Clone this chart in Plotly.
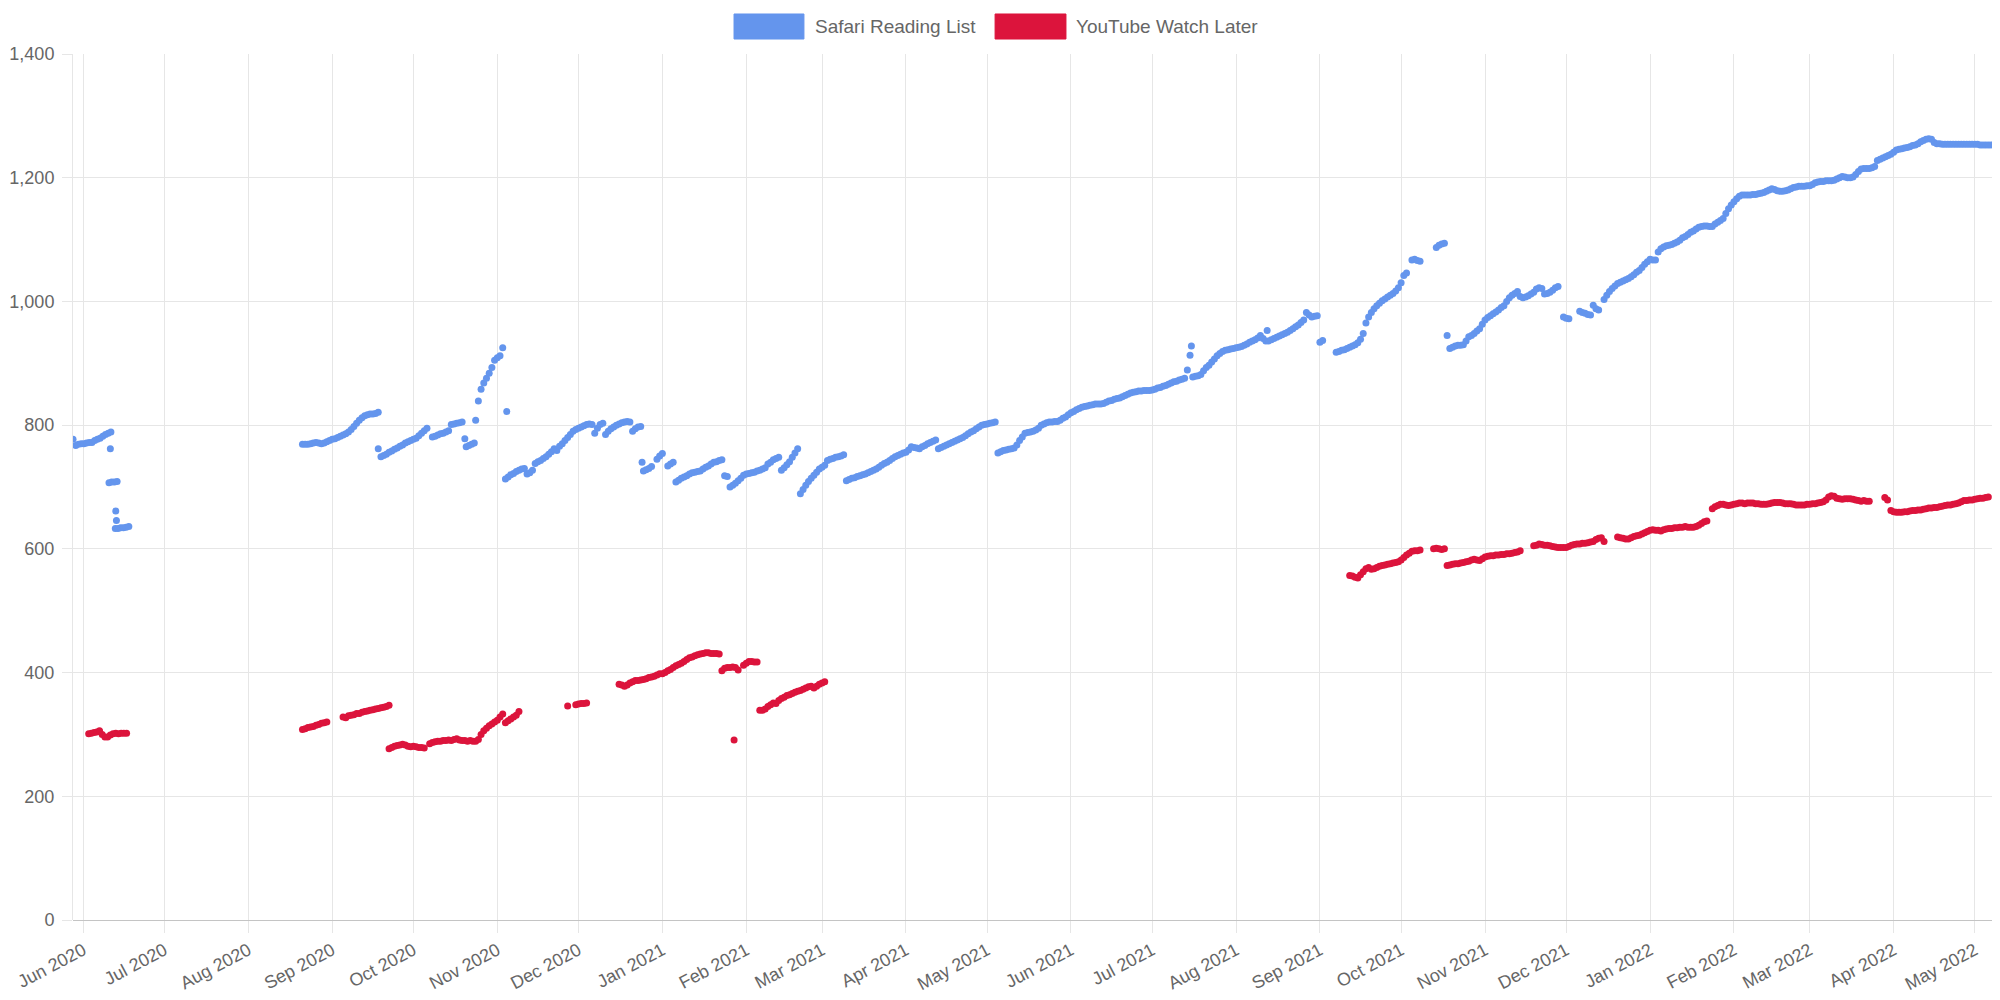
import pandas as pd
import plotly.graph_objects as go

# ---------------- data (daily samples; each segment = start date + consecutive daily values)
blue_name = "Safari Reading List"
red_name = "YouTube Watch Later"
blue_color = "#6495ED"
red_color = "#DC143C"

blue_segments = [
    ("2020-05-28 05:00", [777, 767, 769, 770, 770, 771, 772, 772, 775, 777, 779, 782, 785, 787, 789]),
    ("2020-06-11", [762]),
    ("2020-06-10 12:00", [707, 708, 708, 709]),
    ("2020-06-13", [661]),
    ("2020-06-13 06:00", [646]),
    ("2020-06-12 20:00", [633, 633, 634, 634, 635, 636]),
    ("2020-08-21", [769, 769, 769, 770, 771, 772, 771, 770, 771, 773, 775, 777, 778, 780, 782, 784, 786, 789,
                    793, 798, 803, 808, 812, 815, 817, 818, 818, 819, 821]),
    ("2020-09-18", [762]),
    ("2020-09-19", [749, 751, 753, 756, 758, 761, 763, 766, 768, 771, 773, 775, 777, 779, 783, 787, 791, 795]),
    ("2020-10-08", [781, 782, 784, 786, 787, 789, 791]),
    ("2020-10-15", [801, 802, 803, 804, 805]),
    ("2020-10-20", [778]),
    ("2020-10-20 12:00", [765, 767, 769, 771]),
    ("2020-10-24", [808, 839, 858, 868, 876, 884, 893, 905, 909, 912, 925]),
    ("2020-11-04 12:00", [822]),
    ("2020-11-04", [713, 716, 720, 722, 725, 727, 729, 730]),
    ("2020-11-12", [721, 723, 727]),
    ("2020-11-15", [738, 741, 743, 746, 749, 753, 757, 762, 759, 766, 770, 775, 780, 785, 790, 793, 795, 797,
                    799, 801, 802, 801, 787, 795, 801, 803, 785, 790, 794, 797, 800, 802, 804, 805, 806, 805,
                    790, 794, 797, 798]),
    ("2020-12-24 12:00", [740]),
    ("2020-12-25", [726, 728, 730, 733]),
    ("2020-12-30", [745, 750, 754]),
    ("2021-01-03", [734, 737, 740]),
    ("2021-01-06", [708, 711, 714, 716, 718, 721, 723, 724, 725, 726, 729, 732, 734, 737, 740, 741, 743, 744]),
    ("2021-01-24", [718, 717]),
    ("2021-01-26", [700, 703, 706, 710, 714, 719, 721, 722, 723, 724, 726, 727, 729, 731, 737, 740, 744, 746, 748]),
    ("2021-02-14", [727, 731, 736, 741, 748, 755, 762]),
    ("2021-02-21", [689, 696, 703, 709, 714, 719, 724, 729, 732, 735, 743, 745, 746, 748, 749, 750, 752]),
    ("2021-03-10", [710, 712, 714, 715, 717, 718, 720, 721, 723, 725, 727, 729, 732, 735, 738, 740, 743, 746,
                    749, 751, 753, 755, 756, 760, 765, 764, 763, 762, 765, 767, 770, 772, 774, 776]),
    ("2021-04-13", [762, 764, 766, 768, 770, 772, 774, 776, 778, 780, 783, 786, 789, 791, 794, 797, 800, 801,
                    802, 803, 804, 805]),
    ("2021-05-05", [755, 757, 759, 760, 761, 762, 763, 768, 775, 781, 787, 788, 789, 790, 792, 795]),
    ("2021-05-21", [800, 802, 804, 805, 805, 806, 806, 808, 811, 813, 817, 820, 822, 825, 827, 829, 830, 831,
                    832, 833, 834, 834, 834, 835, 837, 839, 840, 842, 843, 844, 846, 848, 850, 852, 853, 854,
                    855, 855, 856, 856, 856, 857, 858, 860, 861, 863, 864, 866, 868, 870, 871, 873, 874, 876]),
    ("2021-07-14", [889]),
    ("2021-07-15", [913]),
    ("2021-07-15 12:00", [928]),
    ("2021-07-16", [878, 879, 880, 882, 888, 893, 897, 902, 907, 912, 916, 919, 921, 922, 923, 924, 925, 926,
                    927, 929, 931, 934, 936, 938, 941]),
    ("2021-08-10", [945, 940, 936, 936, 938, 940, 942, 944, 946, 948, 950, 953, 956, 959, 962, 966, 970, 982,
                    978, 975, 976, 977]),
    ("2021-08-12 12:00", [953]),
    ("2021-09-01", [934, 937]),
    ("2021-09-07", [918, 919, 921, 922, 924, 926, 928, 930, 933, 939, 948, 965, 975, 982, 988, 993, 997, 1001,
                    1004, 1007, 1010, 1013, 1017, 1022, 1030, 1042, 1046]),
    ("2021-10-05", [1067, 1068, 1066, 1065]),
    ("2021-10-14", [1087, 1091, 1093, 1094]),
    ("2021-10-18", [945]),
    ("2021-10-19", [924, 926, 928, 929, 929, 930, 936, 943, 945, 948, 952, 956, 963, 970, 974, 977, 980, 983,
                    986, 990, 993, 1000, 1006, 1010, 1013, 1016]),
    ("2021-11-14", [1008, 1006, 1007, 1009, 1012, 1015, 1020, 1022, 1021, 1012, 1013, 1015, 1018, 1022, 1024]),
    ("2021-11-30", [975, 973, 972]),
    ("2021-12-06", [984, 982, 981, 979, 978]),
    ("2021-12-11", [994, 988, 986]),
    ("2021-12-15", [1003, 1010, 1016, 1021, 1025, 1029, 1031, 1033, 1035, 1037,
                    1040, 1043, 1047, 1050, 1055, 1060, 1064, 1068, 1067, 1067,
                    1080, 1085, 1088, 1090, 1091, 1092, 1094, 1096, 1099, 1103,
                    1105, 1108, 1112, 1114, 1117, 1120, 1121, 1122, 1122, 1121,
                    1121, 1125, 1128, 1131, 1134, 1142, 1150, 1156, 1161, 1166,
                    1170, 1172, 1172, 1172, 1172, 1173, 1173, 1174, 1175, 1176,
                    1178, 1180, 1182, 1181, 1179, 1178, 1178, 1179, 1180, 1182,
                    1184, 1185, 1186, 1186, 1186, 1187, 1187, 1189, 1192, 1193,
                    1194, 1194, 1195, 1195, 1195, 1196, 1198, 1200, 1202, 1201,
                    1200, 1200, 1201, 1205, 1210, 1214, 1215, 1215, 1215, 1216,
                    1218, 1228, 1230, 1232, 1234, 1236, 1238, 1241, 1245, 1246,
                    1247, 1248, 1249, 1250, 1252, 1253, 1255, 1258, 1260, 1262,
                    1263, 1262, 1257, 1255, 1255, 1254, 1254, 1254, 1254, 1254,
                    1254, 1254, 1254, 1254, 1254, 1254, 1254, 1254, 1254, 1253,
                    1253, 1253, 1253, 1253, 1253, 1253]),
]

red_segments = [
    ("2020-06-03", [301, 302, 303, 304, 306, 300, 296, 296, 299, 301, 302, 301, 302, 302, 302]),
    ("2020-08-21", [308, 309, 311, 312, 313, 315, 316, 318, 319, 320]),
    ("2020-09-05", [328, 327, 330, 331, 332, 334, 334, 336, 337, 338, 339, 340, 341, 342, 343, 344, 345, 347]),
    ("2020-09-22", [277, 279, 281, 282, 283, 284, 283, 281, 280, 281, 280, 279, 279, 278]),
    ("2020-10-07", [285, 287, 288, 289, 289, 290, 290, 291, 290, 292, 293, 291, 290, 290, 289, 290, 289, 289]),
    ("2020-10-25", [292, 300, 306, 310, 314, 317, 320, 323, 328, 333]),
    ("2020-11-04", [319, 322, 325, 328, 331]),
    ("2020-11-09", [337]),
    ("2020-11-27", [346]),
    ("2020-11-30", [348, 349, 350, 350, 351]),
    ("2020-12-16", [381, 380, 378, 380, 383, 385, 387, 387, 388, 389, 390, 392, 393, 394, 396, 398, 398, 400,
                    403, 405, 408, 411, 413, 415, 418, 421, 424, 425, 427, 429, 430, 431, 432, 432, 431, 431,
                    431, 430]),
    ("2021-01-23", [403, 407, 408, 408, 409, 408, 404]),
    ("2021-01-27 12:00", [291]),
    ("2021-01-31", [412, 415, 418, 418, 417, 417]),
    ("2021-02-06", [339, 339, 341, 345, 348, 351, 350, 355, 358, 360, 363, 364, 366, 368, 370, 371, 373, 375,
                    377, 378, 375, 378, 381, 383, 385]),
    ("2021-09-12", [557, 556, 554, 553, 558, 563, 568, 570, 567, 568, 570, 572, 573, 574, 575, 576, 577, 578,
                    579, 582, 586, 590, 593, 596, 597, 597, 598]),
    ("2021-10-13", [600, 601, 600, 599, 600]),
    ("2021-10-18", [573, 574, 575, 576, 576, 577, 578, 579, 580, 582, 583, 582, 581, 584, 587, 588, 589, 589,
                    590, 590, 591, 591, 592, 592, 593, 594, 595, 597]),
    ("2021-11-19", [605, 606, 608, 607, 606, 606, 605, 604, 603, 602, 602, 602, 602, 604, 606, 607, 608, 608,
                    609, 609, 610, 611, 612, 615, 617, 618, 612]),
    ("2021-12-20", [619, 618, 617, 616, 616, 618, 620, 621, 622, 624, 626, 628, 630, 631, 630, 630, 629, 631,
                    632, 633, 633, 634, 634, 635, 635, 636, 635, 635, 635, 636, 638, 641, 644, 645]),
    ("2022-01-24", [665, 668, 670, 672, 672, 671, 670, 671, 672, 673, 674, 674, 673, 674, 674, 674, 673, 673,
                    672, 672, 672, 673, 674, 675, 675, 675, 674, 673, 673,
                    673, 672, 671, 671, 671, 671, 672, 672, 673, 673, 674, 675, 676, 679, 684, 686, 685, 682,
                    681, 680, 681, 681, 681, 680, 679, 678, 677, 678, 677, 677]),
    ("2022-03-28 18:00", [683, 679]),
    ("2022-03-31", [662, 660, 659, 659, 659, 660, 660, 661, 662, 662, 663, 663, 664, 665, 666, 666, 667, 667,
                    668, 669, 670, 671, 671, 672, 673, 674, 676, 678, 678, 679, 679, 680, 681, 682, 682, 683,
                    684]),
]

y_tick_values = [0, 200, 400, 600, 800, 1000, 1200, 1400]
x_range = ["2020-05-28 04:48", "2022-05-08 02:24"]


def expand(segments):
    xs, ys = [], []
    for start, vals in segments:
        xs.extend(pd.date_range(start=start, periods=len(vals), freq="D"))
        ys.extend(vals)
    return xs, ys


bx, by = expand(blue_segments)
rx, ry = expand(red_segments)

fig = go.Figure()
fig.add_trace(go.Scatter(x=bx, y=by, mode="markers", name=blue_name,
                         marker=dict(color=blue_color, size=7, line=dict(width=0))))
fig.add_trace(go.Scatter(x=rx, y=ry, mode="markers", name=red_name,
                         marker=dict(color=red_color, size=7, line=dict(width=0))))

grid = "#e6e6e6"
fig.update_layout(
    width=2000, height=1000,
    margin=dict(l=65, r=14, t=46, b=88),
    plot_bgcolor="white", paper_bgcolor="white",
    showlegend=False,
    font=dict(family="Liberation Sans, Arial, sans-serif", size=18, color="#666666"),
)
fig.update_xaxes(
    type="date", range=x_range, dtick="M1", tick0="2020-06-01", tickformat="%b %Y",
    tickangle=-28, showgrid=True, gridcolor=grid, gridwidth=1,
    ticks="outside", ticklen=12, tickcolor=grid, showline=False, zeroline=False,
    tickfont=dict(size=18), automargin=False,
)
fig.update_yaxes(
    range=[0, 1400], tickvals=y_tick_values, tickformat=",d",
    showgrid=True, gridcolor=grid, gridwidth=1,
    ticks="outside", ticklen=10, tickcolor=grid, ticklabelstandoff=4,
    zeroline=True, zerolinecolor="#c4c4c4", zerolinewidth=1,
    showline=True, linecolor=grid, linewidth=1,
    tickfont=dict(size=18), automargin=False,
)

# legend drawn as colour boxes + text (Chart.js style)
legend_items = [(blue_name, blue_color, 0.3441, 0.3805, 0.3852),
                (red_name, red_color, 0.4800, 0.5169, 0.5211)]
for name, col, x0, x1, xt in legend_items:
    fig.add_shape(type="rect", xref="paper", yref="paper", x0=x0, x1=x1, y0=1.0173, y1=1.0462,
                  fillcolor=col, line=dict(color=col, width=1))
    fig.add_annotation(text=name, xref="paper", yref="paper", x=xt, y=1.0318,
                       xanchor="left", yanchor="middle", showarrow=False,
                       font=dict(size=19, color="#666666"))

fig.write_html("out.html")
